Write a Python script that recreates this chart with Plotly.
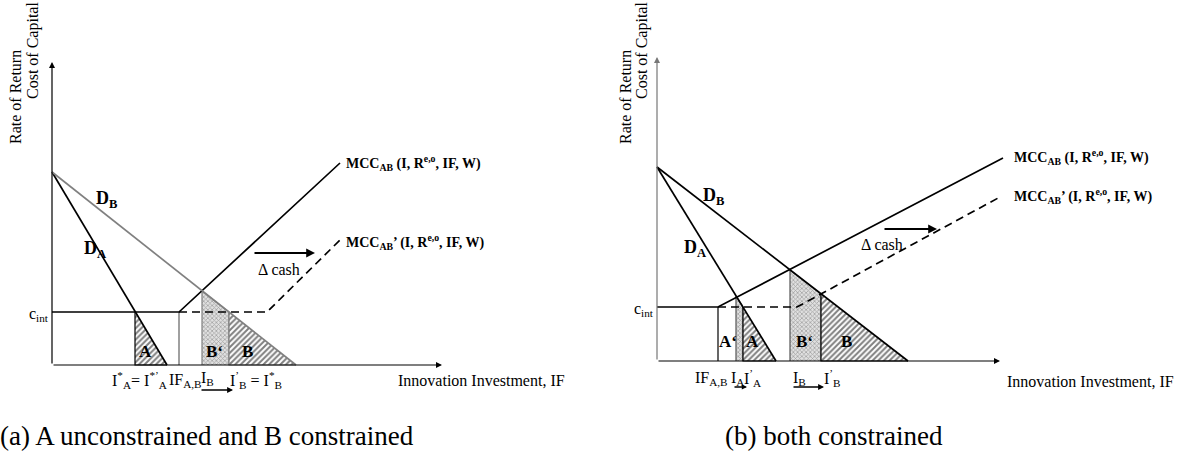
import plotly.graph_objects as go

W, H = 1184, 465

# ---------------- Panel (a): data (diagram units) ----------------
a_DA_x = [0, 115]; a_DA_y = [193, 0]
a_DB_x = [0, 244]; a_DB_y = [193, 0]
a_MCC_x = [0, 127, 288]; a_MCC_y = [53, 53, 202]
a_MCCp_x = [127, 215, 288]; a_MCCp_y = [53, 53, 125]
a_IF_x = [127, 127]; a_IF_y = [0, 53]
a_regA_x = [83, 83, 115]; a_regA_y = [53, 0, 0]
a_regBp_x = [150, 150, 177, 177]; a_regBp_y = [0, 74, 53, 0]
a_regB_x = [177, 177, 244]; a_regB_y = [53, 0, 0]
a_xmax, a_ymax = 390, 303

# ---------------- Panel (b): data ----------------
b_DA_x = [0, 119]; b_DA_y = [194, 0]
b_DB_x = [0, 251]; b_DB_y = [194, 0]
b_MCC_x = [0, 61, 346]; b_MCC_y = [54, 54, 203]
b_MCCp_x = [61, 140, 343]; b_MCCp_y = [54, 54, 164]
b_IF_x = [61, 61]; b_IF_y = [0, 54]
b_regAp_x = [79, 79, 86, 86]; b_regAp_y = [0, 65, 54, 0]
b_regA_x = [86, 86, 119]; b_regA_y = [54, 0, 0]
b_regBp_x = [133, 133, 164, 164]; b_regBp_y = [0, 91, 67, 0]
b_regB_x = [164, 164, 251]; b_regB_y = [67, 0, 0]
b_xmax, b_ymax = 343, 304

FONT = "Liberation Serif"
HATCH = dict(shape="/", fgcolor="black", bgcolor="white", size=4, solidity=0.5)
DOTS = dict(shape="x", fgcolor="#666666", bgcolor="#e0e0e0", size=3, solidity=0.45)

fig = go.Figure()

def region(x, y, pattern, edge, xa, ya):
    fig.add_trace(go.Scatter(x=x, y=y, mode="lines", fill="toself",
                             fillcolor="rgba(0,0,0,0)", fillpattern=pattern,
                             line=dict(color=edge, width=1.2),
                             xaxis=xa, yaxis=ya, hoverinfo="skip", showlegend=False))

def line(x, y, color, xa, ya, width=1.7, dash="solid"):
    fig.add_trace(go.Scatter(x=x, y=y, mode="lines",
                             line=dict(color=color, width=width, dash=dash),
                             xaxis=xa, yaxis=ya, hoverinfo="skip", showlegend=False))

# ---- panel a marks
region(a_regA_x, a_regA_y, HATCH, "black", "x", "y")
region(a_regBp_x, a_regBp_y, DOTS, "#808080", "x", "y")
region(a_regB_x, a_regB_y, HATCH, "#808080", "x", "y")
line(a_IF_x, a_IF_y, "#808080", "x", "y", 1.5)
line(a_MCCp_x, a_MCCp_y, "black", "x", "y", 1.7, "8px,5px")
line(a_MCC_x, a_MCC_y, "black", "x", "y")
line(a_DA_x, a_DA_y, "black", "x", "y")
line(a_DB_x, a_DB_y, "#808080", "x", "y")

# ---- panel b marks
region(b_regAp_x, b_regAp_y, DOTS, "#555555", "x2", "y2")
region(b_regA_x, b_regA_y, HATCH, "black", "x2", "y2")
region(b_regBp_x, b_regBp_y, DOTS, "#555555", "x2", "y2")
region(b_regB_x, b_regB_y, HATCH, "black", "x2", "y2")
line(b_IF_x, b_IF_y, "black", "x2", "y2", 1.2)
line(b_MCCp_x, b_MCCp_y, "black", "x2", "y2", 1.7, "8px,5px")
line(b_MCC_x, b_MCC_y, "black", "x2", "y2")
line(b_DA_x, b_DA_y, "black", "x2", "y2")
line(b_DB_x, b_DB_y, "black", "x2", "y2")

ann = []

def arrow(x0, y0, x1, y1, xr, yr, color="black", width=1.2, head=2, size=1.0):
    ann.append(dict(x=x1, y=y1, ax=x0, ay=y0, xref=xr, yref=yr, axref=xr, ayref=yr,
                    text="", showarrow=True, arrowhead=head, arrowsize=size,
                    arrowwidth=width, arrowcolor=color))

def txt(x, y, s, xr, yr, size=15, xanchor="center", yanchor="middle", angle=0):
    ann.append(dict(x=x, y=y, xref=xr, yref=yr, text=s, showarrow=False,
                    xanchor=xanchor, yanchor=yanchor, textangle=angle,
                    font=dict(family=FONT, size=size, color="black")))

# axes
arrow(0, 0, 0, a_ymax, "x", "y")
arrow(0, 0, a_xmax, 0, "x", "y")
arrow(0, 0, 0, b_ymax, "x2", "y2", color="#777777")
arrow(0, 0, b_xmax, 0, "x2", "y2")

# panel a labels
txt(55, 166, "<b>D<sub>B</sub></b>", "x", "y", 18)
txt(43, 116, "<b>D<sub>A</sub></b>", "x", "y", 18)
txt(93, 14, "<b>A</b>", "x", "y", 17)
txt(162, 14, "<b>B‘</b>", "x", "y", 17)
txt(195, 14, "<b>B</b>", "x", "y", 17)
txt(-1, 51, "c<sub>int</sub>", "x", "y", 16, xanchor="right")
arrow(201, 112, 263, 112, "x", "y", width=2.2, head=2, size=0.8)
txt(204, 96, "Δ cash", "x", "y", 16, xanchor="left")
txt(292, 202, "<b>MCC<sub>AB</sub> (I, R<sup>e,o</sup>, IF, W)</b>", "x", "y", 14, xanchor="left")
txt(292, 123, "<b>MCC<sub>AB</sub>’ (I, R<sup>e,o</sup>, IF, W)</b>", "x", "y", 14, xanchor="left")
txt(58, -15, "I<sup>*</sup><sub>A</sub>= I<sup>*’</sup><sub>A</sub>", "x", "y", 16, xanchor="left")
txt(115, -15, "IF<sub>A,B</sub>", "x", "y", 16, xanchor="left")
txt(147, -13, "I<sub>B</sub>", "x", "y", 16, xanchor="left")
txt(176, -15, "I<sup>’</sup><sub>B</sub> = I<sup>*</sup><sub>B</sub>", "x", "y", 16, xanchor="left")
arrow(148, -25, 181, -25, "x", "y", width=1.3, head=2, size=0.9)
txt(344, -15, "Innovation Investment, IF", "x", "y", 16, xanchor="left")

# panel b labels
txt(57, 165, "<b>D<sub>B</sub></b>", "x2", "y2", 18)
txt(38, 113, "<b>D<sub>A</sub></b>", "x2", "y2", 18)
txt(71, 20, "<b>A‘</b>", "x2", "y2", 17)
txt(95, 20, "<b>A</b>", "x2", "y2", 17)
txt(147, 20, "<b>B‘</b>", "x2", "y2", 17)
txt(189, 20, "<b>B</b>", "x2", "y2", 17)
txt(-1, 52, "c<sub>int</sub>", "x2", "y2", 16, xanchor="right")
arrow(226, 132, 280, 132, "x2", "y2", width=2.2, head=2, size=0.8)
txt(202, 117, "Δ cash", "x2", "y2", 16, xanchor="left")
txt(355, 204, "<b>MCC<sub>AB</sub> (I, R<sup>e,o</sup>, IF, W)</b>", "x2", "y2", 14, xanchor="left")
txt(355, 165, "<b>MCC<sub>AB</sub>’ (I, R<sup>e,o</sup>, IF, W)</b>", "x2", "y2", 14, xanchor="left")
txt(36, -17, "IF<sub>A,B</sub>", "x2", "y2", 16, xanchor="left")
txt(72, -17, "I<sub>A</sub>", "x2", "y2", 16, xanchor="left")
txt(85, -17, "I<sup>’</sup><sub>A</sub>", "x2", "y2", 16, xanchor="left")
txt(134, -17, "I<sub>B</sub>", "x2", "y2", 16, xanchor="left")
txt(165, -17, "I<sup>’</sup><sub>B</sub>", "x2", "y2", 16, xanchor="left")
arrow(76, -26, 90, -26, "x2", "y2", width=1.3, head=2, size=0.8)
arrow(135, -26, 167, -26, "x2", "y2", width=1.3, head=2, size=0.9)
txt(348, -20, "Innovation Investment, IF", "x2", "y2", 16, xanchor="left")

# y-axis titles
def py(p):
    return (H - p) / H

def px(p):
    return p / W

for xx, s, yc in [(15, "Rate of Return", 97), (33, "Cost of Capital", 51),
                  (625, "Rate of Return", 97), (642, "Cost of Capital", 51)]:
    txt(px(xx), py(yc), s, "paper", "paper", 16, angle=-90)

# captions
for cx, s in [(207, "(a) A unconstrained and B constrained"), (834, "(b) both constrained")]:
    ann.append(dict(x=px(cx), y=py(436), xref="paper", yref="paper", showarrow=False,
                    xanchor="center", yanchor="middle", text=s,
                    font=dict(family=FONT, size=27, color="black")))

# each panel's axes span the whole figure so that labels outside the diagram stay visible;
# origin of panel (a) sits at pixel (52, 365), panel (b) at (657, 361); 1 unit = 1 px
ax_common = dict(visible=False, fixedrange=True)
fig.update_layout(
    width=W, height=H, margin=dict(l=0, r=0, t=0, b=0),
    paper_bgcolor="white", plot_bgcolor="white",
    xaxis=dict(domain=[0, 1], range=[-52, W - 52], **ax_common),
    yaxis=dict(domain=[0, 1], range=[-(H - 365), 365], **ax_common),
    xaxis2=dict(domain=[0, 1], range=[-657, W - 657], anchor="y2", overlaying="x", **ax_common),
    yaxis2=dict(domain=[0, 1], range=[-(H - 361), 361], anchor="x2", overlaying="y", **ax_common),
    annotations=ann,
    showlegend=False,
)

fig.write_html("out.html")
